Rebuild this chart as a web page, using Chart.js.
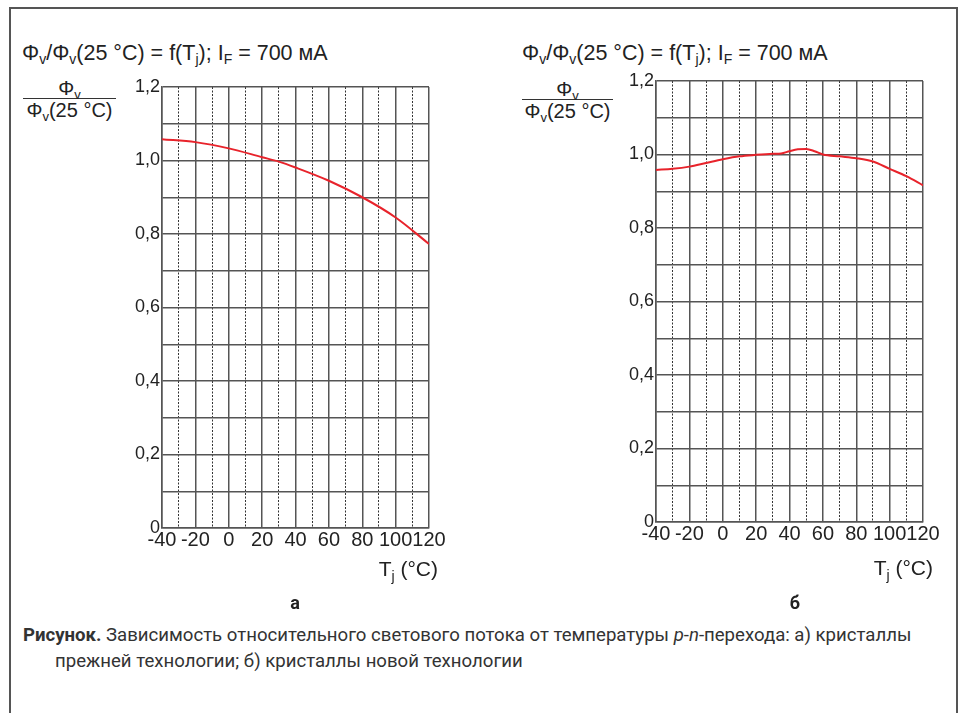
<!DOCTYPE html>
<html>
<head>
<meta charset="utf-8">
<script src="https://cdn.jsdelivr.net/npm/chart.js@4.4.0/dist/chart.umd.min.js"></script>
<style>
body { margin: 0; background: #fff; width: 964px; height: 713px; position: relative; overflow: hidden;
       font-family: 'Liberation Sans', Arial, sans-serif; color: #222; }
.frame { position: absolute; left: 9px; top: 7px; width: 945px; height: 720px; border: 2px solid #555; border-bottom: none; }
.t { position: absolute; font-size: 21.5px; line-height: 22px; white-space: nowrap; }
.t sub { font-size: 14px; line-height: 0; vertical-align: -4px; }
.frac { position: absolute; font-size: 20px; text-align: center; white-space: nowrap; }
.frac .num { line-height: 20px; }
.frac .den { line-height: 22px; border-top: 1.5px solid #333; }
.frac sub { font-size: 13px; line-height: 0; vertical-align: -4px; }
.xt { position: absolute; font-size: 21px; line-height: 22px; white-space: nowrap; text-align: right; }
.xt sub { font-size: 14px; line-height: 0; vertical-align: -5px; }
.lbl { position: absolute; font-family: 'Roboto', sans-serif; font-weight: bold; font-size: 18px; width: 40px; text-align: center; }
.cap { position: absolute; font-family: 'Roboto', sans-serif; font-size: 18.6px; line-height: 22px; white-space: nowrap; color: #333; }
canvas { position: absolute; }
</style>
</head>
<body>
<div class="frame"></div>

<div class="t" style="left:22px;top:42px">Φ<sub>v</sub>/Φ<sub>v</sub>(25 °C) = f(T<sub>j</sub>); I<sub>F</sub> = 700 мА</div>
<div class="frac" style="left:23px;top:78px;width:93px"><div class="num">Φ<sub>v</sub></div><div class="den">Φ<sub>v</sub>(25 °C)</div></div>

<div class="t" style="left:522px;top:42px">Φ<sub>v</sub>/Φ<sub>v</sub>(25 °C) = f(T<sub>j</sub>); I<sub>F</sub> = 700 мА</div>
<div class="frac" style="left:522px;top:79px;width:91px"><div class="num">Φ<sub>v</sub></div><div class="den">Φ<sub>v</sub>(25 °C)</div></div>

<canvas id="chartA" width="360" height="510" style="left:100px;top:60px;width:360px;height:510px"></canvas>
<canvas id="chartB" width="360" height="510" style="left:594px;top:54px;width:360px;height:510px"></canvas>

<div class="xt" style="left:318px;top:558px;width:120px">T<sub>j</sub> (°C)</div>
<div class="xt" style="left:813px;top:557px;width:120px">T<sub>j</sub> (°C)</div>

<div class="lbl" style="left:275px;top:592px">а</div>
<div class="lbl" style="left:775px;top:592px">б</div>

<div class="cap" style="left:23px;top:624px"><b>Рисунок.</b> Зависимость относительного светового потока от температуры <i>p</i>-<i>n</i>-перехода: а) кристаллы</div>
<div class="cap" style="left:55px;top:650px">прежней технологии; б) кристаллы новой технологии</div>

<script>
// а) old technology crystals
const tempsA = [-40, -20, 0, 20, 30, 40, 60, 80, 100, 120];
const fluxA = [1.058, 1.050, 1.033, 1.009, 0.997, 0.981, 0.945, 0.900, 0.845, 0.773];

// б) new technology crystals
const tempsB = [-40, -30, -20, -10, 0, 10, 20, 30, 35, 40, 45, 50, 55, 60, 70, 80, 90, 100, 110, 120];
const fluxB = [0.958, 0.961, 0.967, 0.977, 0.987, 0.995, 0.999, 1.002, 1.003, 1.009, 1.014, 1.015, 1.009, 1.000, 0.995, 0.990, 0.981, 0.961, 0.941, 0.916];

const xTicks = [-40, -20, 0, 20, 40, 60, 80, 100, 120];
const yTickLabels = ['0', '0,2', '0,4', '0,6', '0,8', '1,0', '1,2'];

const gridColor = '#555';
const lineColor = '#e8232b';

const makeChart = (canvas, temps, flux, tension) => {
    return new Chart(canvas, {
        type: 'line',
        data: {
            datasets: [{
                data: temps.map((t, i) => ({ x: t, y: flux[i] })),
                borderColor: lineColor,
                borderWidth: 2,
                pointRadius: 0,
                tension: tension,
                cubicInterpolationMode: 'monotone',
                fill: false
            }]
        },
        options: {
            responsive: false,
            animation: false,
            layout: { padding: { top: 27, right: 31, left: 0, bottom: 2 } },
            plugins: { legend: { display: false }, tooltip: { enabled: false } },
            scales: {
                x: {
                    type: 'linear',
                    position: 'bottom',
                    min: xTicks[0],
                    max: xTicks[xTicks.length - 1],
                    afterBuildTicks: s => { s.ticks = xTicks.map(v => ({ value: v })); },
                    ticks: {
                        autoSkip: false, maxRotation: 0, padding: 0, color: '#222',
                        font: { family: 'Liberation Sans', size: 20 }
                    },
                    grid: { color: gridColor, lineWidth: 1.5, drawTicks: false },
                    border: { color: gridColor, width: 1.5 },
                    afterFit: s => { s.height = 40; s.paddingLeft = 0; s.paddingRight = 0; }
                },
                xMinor: {
                    type: 'linear',
                    position: 'bottom',
                    min: xTicks[0],
                    max: xTicks[xTicks.length - 1],
                    ticks: { display: false, stepSize: 10, autoSkip: false },
                    grid: {
                        drawTicks: false,
                        lineWidth: 1,
                        color: c => (c.tick && c.tick.value % 20 !== 0) ? '#333' : 'rgba(0,0,0,0)'
                    },
                    border: { display: false, dash: [2, 1.5] },
                    afterFit: s => { s.height = 0; s.paddingLeft = 0; s.paddingRight = 0; }
                },
                y: {
                    min: 0,
                    max: 1.2,
                    ticks: {
                        stepSize: 0.1, autoSkip: false, padding: 2, color: '#222',
                        font: { family: 'Liberation Sans', size: 18 },
                        callback: v => {
                            const idx = Math.round(v * 10);
                            return idx % 2 === 0 ? yTickLabels[idx / 2] : '';
                        }
                    },
                    grid: { color: gridColor, lineWidth: 1.5, drawTicks: false },
                    border: { color: gridColor, width: 1.5 },
                    afterFit: s => { s.width = 62; s.paddingTop = 0; s.paddingBottom = 0; }
                }
            }
        }
    });
};

makeChart(document.getElementById('chartA'), tempsA, fluxA, 0.4);
makeChart(document.getElementById('chartB'), tempsB, fluxB, 0.3);
</script>
</body>
</html>
